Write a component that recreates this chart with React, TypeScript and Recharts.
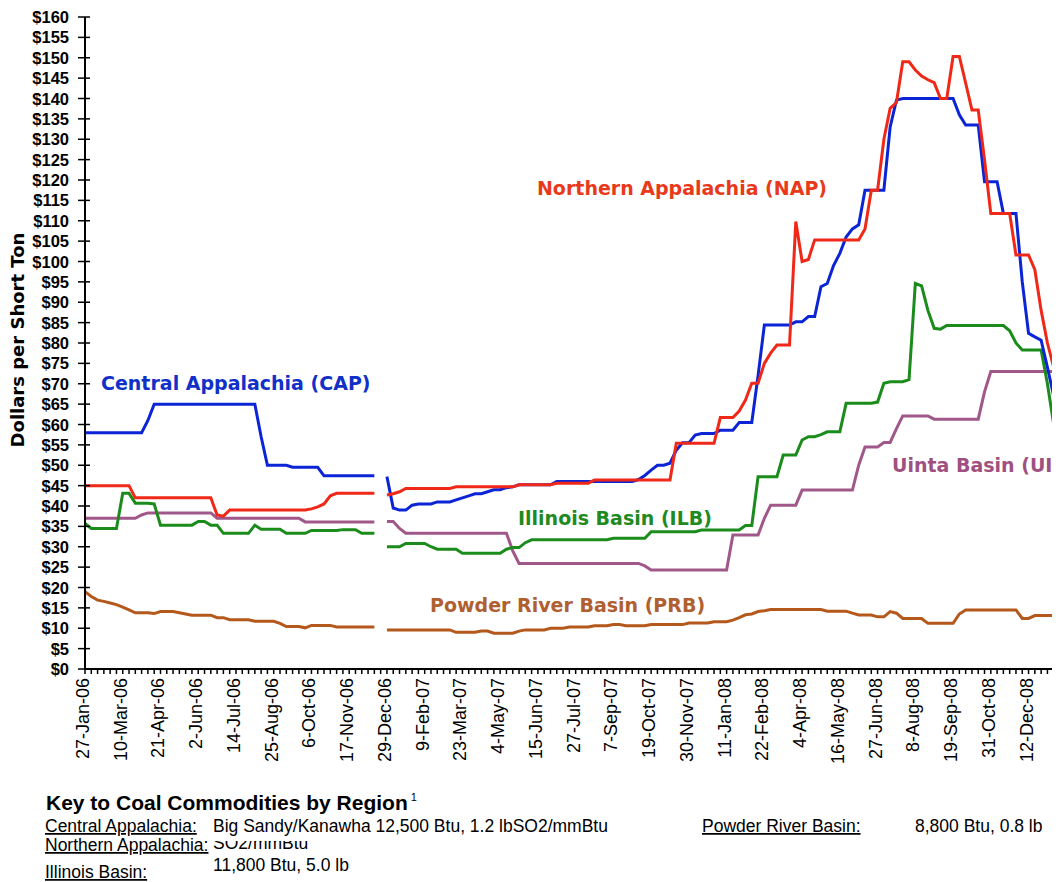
import React from "react";
import { LineChart, Line, XAxis, YAxis } from "recharts";

// Weekly spot prices, 27-Jan-06 .. mid-Jan-09 (index = week number); week 47 (22-Dec-06) missing
const TICK_LABELS = [
  "27-Jan-06", "10-Mar-06", "21-Apr-06", "2-Jun-06", "14-Jul-06", "25-Aug-06",
  "6-Oct-06", "17-Nov-06", "29-Dec-06", "9-Feb-07", "23-Mar-07", "4-May-07",
  "15-Jun-07", "27-Jul-07", "7-Sep-07", "19-Oct-07", "30-Nov-07", "11-Jan-08",
  "22-Feb-08", "4-Apr-08", "16-May-08", "27-Jun-08", "8-Aug-08", "19-Sep-08",
  "31-Oct-08", "12-Dec-08",
];

const PRICE_TICKS = [
  0, 5, 10, 15, 20, 25, 30, 35, 40, 45, 50, 55, 60, 65, 70, 75, 80,
  85, 90, 95, 100, 105, 110, 115, 120, 125, 130, 135, 140, 145, 150, 155, 160,
];

const CAP = [
  58, 58, 58, 58, 58, 58, 58, 58, 58, 58, 61, 65,
  65, 65, 65, 65, 65, 65, 65, 65, 65, 65, 65, 65,
  65, 65, 65, 65, 57, 50, 50, 50, 50, 49.5, 49.5, 49.5,
  49.5, 49.5, 47.4, 47.4, 47.4, 47.4, 47.4, 47.4, 47.4, 47.4, 47.4, null,
  47.2, 39.5, 39, 39, 40.2, 40.5, 40.5, 40.5, 41, 41, 41, 41.5,
  42, 42.5, 43, 43, 43.5, 44, 44, 44.5, 44.7, 45.2, 45.2, 45.2,
  45.2, 45.2, 45.2, 46, 46, 46, 46, 46, 46, 46, 46, 46,
  46, 46, 46, 46, 46.5, 47.5, 48.8, 50, 50, 50.5, 53.7, 55.5,
  55.5, 57.4, 57.8, 57.8, 57.8, 58.6, 58.6, 58.6, 60.5, 60.5, 60.5, 72,
  84.4, 84.4, 84.4, 84.4, 84.4, 85.2, 85.2, 86.5, 86.5, 93.8, 94.6, 99,
  102, 106, 108, 109, 117.5, 117.5, 117.5, 117.5, 133, 139.6, 140, 140,
  140, 140, 140, 140, 140, 140, 140, 136, 133.5, 133.5, 133.5, 119.6,
  119.6, 119.6, 111.8, 111.8, 111.8, 95, 82.4, 81.5, 80.7, 74, 67, 66,
];

const NAP = [
  45, 45, 45, 45, 45, 45, 45, 45, 42, 42, 42, 42,
  42, 42, 42, 42, 42, 42, 42, 42, 42, 37.8, 37.5, 39,
  39, 39, 39, 39, 39, 39, 39, 39, 39, 39, 39, 39,
  39.3, 39.8, 40.5, 42.5, 43.1, 43.1, 43.1, 43.1, 43.1, 43.1, 43.1, null,
  42.7, 43, 43.5, 44.3, 44.3, 44.3, 44.3, 44.3, 44.3, 44.3, 44.3, 44.7,
  44.7, 44.7, 44.7, 44.7, 44.7, 44.7, 44.7, 44.7, 44.7, 45.2, 45.2, 45.2,
  45.2, 45.2, 45.2, 45.6, 45.6, 45.6, 45.6, 45.6, 45.6, 46.4, 46.4, 46.4,
  46.4, 46.4, 46.4, 46.4, 46.4, 46.4, 46.4, 46.4, 46.4, 46.4, 55.4, 55.4,
  55.4, 55.4, 55.4, 55.4, 55.4, 61.7, 61.7, 61.7, 63.3, 66, 70.1, 70.1,
  75, 77.5, 79.5, 79.5, 79.5, 109.8, 100, 100.5, 105.3, 105.3, 105.3, 105.3,
  105.3, 105.3, 105.3, 105.3, 108, 117.5, 117.5, 130, 137.6, 139, 149, 149,
  147, 145.5, 144.6, 143.9, 140, 140, 150.3, 150.3, 143.8, 137.2, 137.2, 125,
  111.8, 111.8, 111.8, 111.8, 101.6, 101.6, 101.6, 98, 88, 80, 74, 68.5,
];

const ILB = [
  35.7, 34.5, 34.5, 34.5, 34.5, 34.5, 43.1, 43.1, 40.7, 40.7, 40.7, 40.5,
  35.3, 35.3, 35.3, 35.3, 35.3, 35.3, 36.2, 36.2, 35.3, 35.3, 33.3, 33.3,
  33.3, 33.3, 33.3, 35.3, 34.3, 34.3, 34.3, 34.3, 33.3, 33.3, 33.3, 33.3,
  34, 34, 34, 34, 34, 34.2, 34.2, 34.2, 33.3, 33.3, 33.3, null,
  30, 30, 30, 30.8, 30.8, 30.8, 30.8, 30, 29.4, 29.4, 29.4, 29.4,
  28.4, 28.4, 28.4, 28.4, 28.4, 28.4, 28.4, 29.4, 29.8, 29.8, 31, 31.7,
  31.7, 31.7, 31.7, 31.7, 31.7, 31.7, 31.7, 31.7, 31.7, 31.7, 31.7, 31.7,
  32.1, 32.1, 32.1, 32.1, 32.1, 32.1, 33.7, 33.7, 33.7, 33.7, 33.7, 33.7,
  33.7, 33.7, 34.1, 34.1, 34.1, 34.1, 34.1, 34.1, 34.1, 35.2, 35.2, 47.2,
  47.2, 47.2, 47.2, 52.5, 52.5, 52.5, 56.2, 57, 57, 57.5, 58.2, 58.2,
  58.2, 65.2, 65.2, 65.2, 65.2, 65.2, 65.5, 70.1, 70.5, 70.5, 70.5, 71,
  94.6, 94, 88, 83.6, 83.4, 84.3, 84.3, 84.3, 84.3, 84.3, 84.3, 84.3,
  84.3, 84.3, 84.3, 83, 80, 78.3, 78.3, 78.3, 78.3, 70, 60, 60,
];

const UIB = [
  37, 37, 37, 37, 37, 37, 37, 37, 37, 37.8, 38.3, 38.3,
  38.3, 38.3, 38.3, 38.3, 38.3, 38.3, 38.3, 38.3, 38.3, 37, 37, 37,
  37, 37, 37, 37, 37, 37, 37, 37, 37, 37, 37, 36.1,
  36.1, 36.1, 36.1, 36.1, 36.1, 36.1, 36.1, 36.1, 36.1, 36.1, 36.1, null,
  36.2, 36.2, 34.5, 33.3, 33.3, 33.3, 33.3, 33.3, 33.3, 33.3, 33.3, 33.3,
  33.3, 33.3, 33.3, 33.3, 33.3, 33.3, 33.3, 33.3, 29, 25.9, 25.9, 25.9,
  25.9, 25.9, 25.9, 25.9, 25.9, 25.9, 25.9, 25.9, 25.9, 25.9, 25.9, 25.9,
  25.9, 25.9, 25.9, 25.9, 25.9, 25.3, 24.3, 24.3, 24.3, 24.3, 24.3, 24.3,
  24.3, 24.3, 24.3, 24.3, 24.3, 24.3, 24.3, 32.9, 32.9, 32.9, 32.9, 32.9,
  37, 40.2, 40.2, 40.2, 40.2, 40.2, 43.9, 43.9, 43.9, 43.9, 43.9, 43.9,
  43.9, 43.9, 43.9, 50, 54.5, 54.5, 54.5, 55.6, 55.6, 59, 62.1, 62.1,
  62.1, 62.1, 62.1, 61.3, 61.3, 61.3, 61.3, 61.3, 61.3, 61.3, 61.3, 68,
  73, 73, 73, 73, 73, 73, 73, 73, 73, 73, 73, 73,
];

const PRB = [
  19, 17.8, 16.9, 16.6, 16.2, 15.8, 15.2, 14.5, 13.8, 13.8, 13.8, 13.6,
  14.1, 14.1, 14.1, 13.8, 13.5, 13.2, 13.2, 13.2, 13.2, 12.6, 12.6, 12.1,
  12.1, 12.1, 12.1, 11.7, 11.7, 11.7, 11.7, 11.2, 10.4, 10.4, 10.4, 10.1,
  10.7, 10.7, 10.7, 10.7, 10.3, 10.3, 10.3, 10.3, 10.3, 10.3, 10.3, null,
  9.6, 9.6, 9.6, 9.6, 9.6, 9.6, 9.6, 9.6, 9.6, 9.6, 9.6, 9,
  9, 9, 9, 9.3, 9.3, 8.8, 8.8, 8.8, 8.8, 9.3, 9.6, 9.6,
  9.6, 9.6, 10, 10, 10, 10.3, 10.3, 10.3, 10.3, 10.6, 10.6, 10.6,
  10.9, 10.9, 10.6, 10.6, 10.6, 10.6, 10.9, 10.9, 10.9, 10.9, 10.9, 10.9,
  11.3, 11.3, 11.3, 11.3, 11.6, 11.6, 11.6, 12, 12.6, 13.3, 13.5, 14.1,
  14.3, 14.6, 14.6, 14.6, 14.6, 14.6, 14.6, 14.6, 14.6, 14.6, 14.2, 14.2,
  14.2, 14.2, 13.7, 13.25, 13.25, 13.25, 12.8, 12.8, 14.1, 13.7, 12.4, 12.4,
  12.4, 12.4, 11.2, 11.2, 11.2, 11.2, 11.2, 13.5, 14.5, 14.5, 14.5, 14.5,
  14.5, 14.5, 14.5, 14.5, 14.5, 12.4, 12.4, 13.1, 13.1, 13.1, 13.1, 13.1,
];

const WEEKS = CAP.map((_, i) => i);
const chartData = WEEKS.map((i) => ({
  week: i,
  cap: CAP[i],
  nap: NAP[i],
  ilb: ILB[i],
  uib: UIB[i],
  prb: PRB[i],
}));

const ARIAL = "'Liberation Sans', Arial, sans-serif";
const VERDANA = "'DejaVu Sans', Verdana, sans-serif";

// weekly minor tick, dated label every 6th week
function WeekTick(props: any) {
  const { x, y, payload } = props;
  const i = payload.value;
  const label = i % 6 === 0 ? TICK_LABELS[i / 6] : null;
  return (
    <g>
      <line x1={x} y1={y} x2={x} y2={y + 5} stroke="#000" strokeWidth={1.5} />
      {label && (
        <text
          transform={`translate(${x - 2},${y + 9}) rotate(-90)`}
          textAnchor="end"
          dominantBaseline="central"
          fontSize={18}
          fontFamily={ARIAL}
          fill="#000"
        >
          {label}
        </text>
      )}
    </g>
  );
}

function PriceTick(props: any) {
  const { x, y, payload } = props;
  return (
    <g>
      <line x1={x - 7} y1={y} x2={x + 5} y2={y} stroke="#000" strokeWidth={1.5} />
      <text
        x={x - 16}
        y={y}
        textAnchor="end"
        dominantBaseline="central"
        fontSize={16.5}
        fontWeight="bold"
        fontFamily={ARIAL}
        fill="#000"
      >
        ${payload.value}
      </text>
    </g>
  );
}

const seriesLabel = { fontFamily: VERDANA, fontWeight: "bold", fontSize: 19 } as const;
const keyText = { fontFamily: ARIAL, fontSize: 17.5, fill: "#000" } as const;

export default function App() {
  return (
    <div style={{ position: "relative", width: 1052, height: 874, overflow: "hidden", background: "#fff" }}>
      <LineChart
        width={1052}
        height={766}
        data={chartData}
        margin={{ top: 9, right: 0, bottom: 0, left: 0 }}
      >
        <XAxis
          dataKey="week"
          type="number"
          domain={[0, 155]}
          ticks={WEEKS}
          interval={0}
          height={105}
          tickSize={0}
          tickMargin={0}
          tickLine={false}
          axisLine={{ stroke: "#000", strokeWidth: 2 }}
          tick={<WeekTick />}
        />
        <YAxis
          type="number"
          domain={[0, 160]}
          ticks={PRICE_TICKS}
          interval={0}
          width={77}
          tickSize={0}
          tickMargin={0}
          tickLine={false}
          axisLine={{ stroke: "#000", strokeWidth: 2 }}
          tick={<PriceTick />}
        />
        <Line dataKey="prb" type="linear" stroke="#b4581c" strokeWidth={3} dot={false} isAnimationActive={false} />
        <Line dataKey="uib" type="linear" stroke="#a0588a" strokeWidth={3} dot={false} isAnimationActive={false} />
        <Line dataKey="ilb" type="linear" stroke="#1b8c1b" strokeWidth={3} dot={false} isAnimationActive={false} />
        <Line dataKey="cap" type="linear" stroke="#0b24d6" strokeWidth={3} dot={false} isAnimationActive={false} />
        <Line dataKey="nap" type="linear" stroke="#f02818" strokeWidth={3} dot={false} isAnimationActive={false} />
      </LineChart>

      <svg
        width={1052}
        height={874}
        style={{ position: "absolute", left: 0, top: 0, pointerEvents: "none" }}
      >
        <defs>
          <clipPath id="so2clip">
            <rect x={200} y={833} width={200} height={20} />
          </clipPath>
        </defs>

        <text
          transform="translate(9.5,332) rotate(-90)"
          textAnchor="middle"
          dominantBaseline="central"
          fontFamily={VERDANA}
          fontWeight="bold"
          fontSize={18}
          fill="#000"
        >
          Dollars per Short Ton
        </text>

        <text x={93} y={382} fill="#1030c8" {...seriesLabel}>Central Appalachia (CAP)</text>
        <text x={819} y={187} textAnchor="end" fill="#e83a1a" {...seriesLabel}>Northern Appalachia (NAP)</text>
        <text x={510} y={517} fill="#208a20" {...seriesLabel}>Illinois Basin (ILB)</text>
        <text x={422} y={604} fill="#b06030" {...seriesLabel}>Powder River Basin (PRB)</text>
        <text x={884} y={464} fill="#a05080" {...seriesLabel}>Uinta Basin (UIB)</text>

        <text x={38} y={802} fontFamily={ARIAL} fontWeight="bold" fontSize={21} fill="#000">
          Key to Coal Commodities by Region
          <tspan dx={3} dy={-9} fontSize={11} fontWeight="normal">1</tspan>
        </text>

        <text x={37} y={824} textDecoration="underline" {...keyText}>Central Appalachia:</text>
        <text x={205} y={824} {...keyText}>Big Sandy/Kanawha 12,500 Btu, 1.2 lbSO2/mmBtu</text>
        <text x={694} y={824} textDecoration="underline" {...keyText}>Powder River Basin:</text>
        <text x={907} y={824} {...keyText}>8,800 Btu, 0.8 lb</text>

        <text x={37} y={843} textDecoration="underline" {...keyText}>Northern Appalachia:</text>
        <text x={205} y={841} clipPath="url(#so2clip)" {...keyText}>SO2/mmBtu</text>

        <text x={37} y={870} textDecoration="underline" {...keyText}>Illinois Basin:</text>
        <text x={205} y={863} {...keyText}>11,800 Btu, 5.0 lb</text>
      </svg>
    </div>
  );
}
